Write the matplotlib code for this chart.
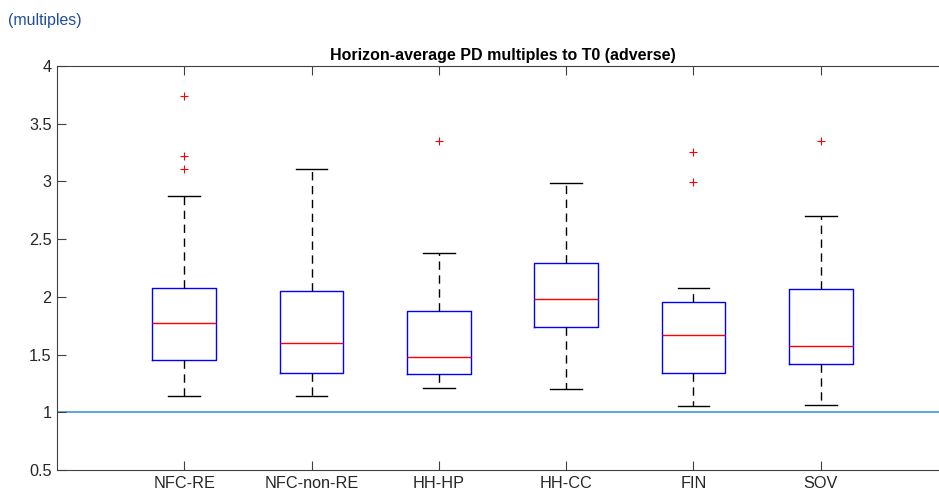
import matplotlib.pyplot as plt

plt.rcParams['font.family'] = ['Liberation Sans', 'DejaVu Sans']

# box statistics
sectors = ["NFC-RE", "NFC-non-RE", "HH-HP", "HH-CC", "FIN", "SOV"]
whisker_lo = [1.144, 1.144, 1.208, 1.199, 1.055, 1.063]
q1 = [1.456, 1.343, 1.329, 1.736, 1.343, 1.421]
median = [1.771, 1.603, 1.476, 1.979, 1.672, 1.574]
q3 = [2.079, 2.053, 1.877, 2.296, 1.953, 2.068]
whisker_hi = [2.874, 3.105, 2.383, 2.984, 2.074, 2.700]
outliers = [[3.743, 3.223, 3.105], [], [3.348], [], [3.252, 2.998], [3.353]]

stats = []
for i, name in enumerate(sectors):
    stats.append(dict(label=name, whislo=whisker_lo[i], q1=q1[i], med=median[i],
                      q3=q3[i], whishi=whisker_hi[i], fliers=outliers[i]))

fig = plt.figure(figsize=(9.39, 4.95), dpi=100)
ax = fig.add_axes([57 / 939, 25 / 495, 891 / 939, 404 / 495])

ax.axhline(1.0, color='#4f9fd4', lw=1.3, zorder=1)

ax.bxp(stats, positions=range(1, len(sectors) + 1), widths=0.5, capwidths=0.25,
       boxprops=dict(color='blue', lw=1.0),
       medianprops=dict(color='red', lw=1.0),
       whiskerprops=dict(color='black', lw=1.0, linestyle=(0, (6, 4))),
       capprops=dict(color='black', lw=1.0),
       flierprops=dict(marker='+', markeredgecolor='red', markersize=6, markeredgewidth=0.8))

ax.set_xlim(0, 7)
ax.set_ylim(0.5, 4)
ax.set_yticks([0.5, 1, 1.5, 2, 2.5, 3, 3.5, 4])
ax.set_yticklabels(['0.5', '1', '1.5', '2', '2.5', '3', '3.5', '4'])
ax.set_xticks(range(1, len(sectors) + 1))
ax.set_xticklabels(sectors)
ax.tick_params(direction='in', length=6.5, width=0.8, color='#404040',
               labelsize=11.7, labelcolor='#262626', top=True, right=True, pad=4)
for s in ax.spines.values():
    s.set_color('#404040')
    s.set_linewidth(0.8)

ax.set_title("Horizon-average PD multiples to T0 (adverse)", fontsize=11.5,
             fontweight='bold', pad=4)
fig.text(8 / 939, 1 - 20 / 495, "(multiples)", color='#1f4ea1', fontsize=11.4,
         va='center', ha='left')

fig.savefig('out.png', dpi=100)
